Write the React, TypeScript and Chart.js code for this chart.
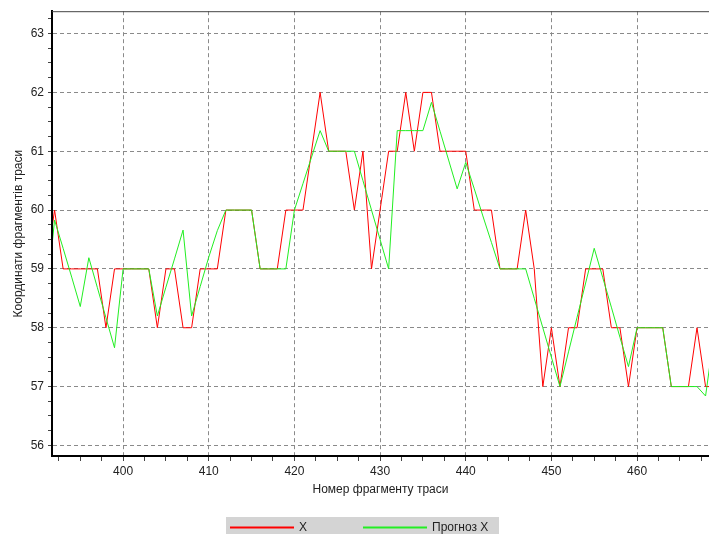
import React, { useEffect, useRef } from "react";
import { Chart, registerables } from "chart.js";

Chart.register(...registerables);

const fragments = [
  391, 392, 393, 394, 395, 396, 397, 398, 399, 400,
  401, 402, 403, 404, 405, 406, 407, 408, 409, 410,
  411, 412, 413, 414, 415, 416, 417, 418, 419, 420,
  421, 422, 423, 424, 425, 426, 427, 428, 429, 430,
  431, 432, 433, 434, 435, 436, 437, 438, 439, 440,
  441, 442, 443, 444, 445, 446, 447, 448, 449, 450,
  451, 452, 453, 454, 455, 456, 457, 458, 459, 460,
  461, 462, 463, 464, 465, 466, 467, 468, 469,
];

const actualX = [
  59, 60, 59, 59, 59, 59, 59, 58, 59, 59,
  59, 59, 59, 58, 59, 59, 58, 58, 59, 59,
  59, 60, 60, 60, 60, 59, 59, 59, 60, 60,
  60, 61, 62, 61, 61, 61, 60, 61, 59, 60,
  61, 61, 62, 61, 62, 62, 61, 61, 61, 61,
  60, 60, 60, 59, 59, 59, 60, 59, 57, 58,
  57, 58, 58, 59, 59, 59, 58, 58, 57, 58,
  58, 58, 58, 57, 57, 57, 58, 57, 57,
];

const forecastX = [
  58.4, 59.83, 59.35, 58.86, 58.36, 59.19, 58.68, 58.17, 57.66, 59,
  59, 59, 59, 58.2, 58.69, 59.17, 59.66, 58.2, 58.7, 59.2,
  59.65, 60, 60, 60, 60, 59, 59, 59, 59, 60,
  60.45, 60.9, 61.35, 61, 61, 61, 61, 60.5, 60, 59.5,
  59, 61.35, 61.35, 61.35, 61.35, 61.83, 61.34, 60.85, 60.36, 60.81,
  60.36, 59.9, 59.45, 59, 59, 59, 59, 58.5, 58, 57.5,
  57, 57.59, 58.18, 58.76, 59.35, 58.85, 58.35, 57.84, 57.34, 58,
  58, 58, 58, 57, 57, 57, 57, 56.84, 57.9,
];

const xMajorTicks = [400, 410, 420, 430, 440, 450, 460];
const yMajorTicks = [56, 57, 58, 59, 60, 61, 62, 63];
const seriesLabels = ["X", "Прогноз X"];
const seriesColors = ["#ff0000", "#22ee22"];

const FONT = "'Liberation Sans', Arial, sans-serif";

const framePlugin = {
  id: "frameAndLegend",
  afterDraw(chart: any) {
    const { ctx, chartArea } = chart;
    ctx.save();
    // top frame line
    ctx.strokeStyle = "#444";
    ctx.lineWidth = 1;
    ctx.beginPath();
    ctx.moveTo(chartArea.left, chartArea.top + 0.5);
    ctx.lineTo(chartArea.right, chartArea.top + 0.5);
    ctx.stroke();

    // legend
    ctx.fillStyle = "#d4d4d4";
    ctx.fillRect(226, 517, 273, 17);
    const starts = [230, 363];
    chart.data.datasets.forEach((ds: any, i: number) => {
      const x0 = starts[i];
      ctx.strokeStyle = ds.borderColor;
      ctx.lineWidth = 2;
      ctx.beginPath();
      ctx.moveTo(x0, 527.5);
      ctx.lineTo(x0 + 64, 527.5);
      ctx.stroke();
      ctx.fillStyle = "#222";
      ctx.font = `12px ${FONT}`;
      ctx.textBaseline = "middle";
      ctx.textAlign = "left";
      ctx.fillText(ds.label, x0 + 69, 528);
    });
    ctx.restore();
  },
};

export default function App() {
  const ref = useRef<HTMLCanvasElement | null>(null);

  useEffect(() => {
    if (!ref.current) return;
    const redData = fragments.map((f, i) => ({ x: f, y: actualX[i] }));
    const greenData = fragments.map((f, i) => ({ x: f, y: forecastX[i] }));

    const xMinor: number[] = [];
    for (let v = 392.5; v <= 468; v += 2.5) xMinor.push(v);
    const yMinor: number[] = [];
    for (let v = 56; v <= 63.3; v += 0.25) yMinor.push(v);

    const chart = new Chart(ref.current, {
      type: "line",
      data: {
        datasets: [
          {
            label: seriesLabels[0],
            data: redData,
            borderColor: seriesColors[0],
            borderWidth: 1,
            pointRadius: 0,
            tension: 0,
            order: 1,
          },
          {
            label: seriesLabels[1],
            data: greenData,
            borderColor: seriesColors[1],
            borderWidth: 1,
            pointRadius: 0,
            tension: 0,
            order: 0,
          },
        ],
      },
      options: {
        animation: false,
        responsive: false,
        devicePixelRatio: 1,
        layout: { padding: { top: 11, bottom: 37, left: 0, right: 0 } },
        plugins: {
          legend: { display: false },
          tooltip: { enabled: false },
        },
        scales: {
          x: {
            type: "linear",
            min: 391.7,
            max: 468.4,
            afterBuildTicks: (scale: any) => {
              scale.ticks = xMinor.map((v) => ({ value: v }));
            },
            afterFit: (scale: any) => {
              scale.height = 41;
            },
            ticks: {
              autoSkip: false,
              maxRotation: 0,
              padding: 3,
              color: "#222",
              font: { family: FONT, size: 12 },
              callback: (v: any) =>
                xMajorTicks.includes(Number(v)) ? String(v) : "",
            },
            grid: {
              drawTicks: true,
              tickLength: 5,
              tickColor: "#444",
              lineWidth: 1,
              color: (c: any) =>
                c.tick && xMajorTicks.includes(c.tick.value) ? "#8a8a8a" : "rgba(0,0,0,0)",
            },
            border: { display: true, color: "#000", width: 2, dash: [4, 3], z: 1 },
            title: {
              display: true,
              text: "Номер фрагменту траси",
              color: "#222",
              font: { family: FONT, size: 12 },
              padding: { top: 0, bottom: 0 },
            },
          },
          y: {
            type: "linear",
            min: 55.82,
            max: 63.38,
            afterBuildTicks: (scale: any) => {
              scale.ticks = yMinor.map((v) => ({ value: v }));
            },
            afterFit: (scale: any) => {
              scale.width = 52;
            },
            ticks: {
              autoSkip: false,
              padding: 4,
              color: "#222",
              font: { family: FONT, size: 12 },
              callback: (v: any) =>
                yMajorTicks.includes(Number(v)) ? String(v) : "",
            },
            grid: {
              drawTicks: true,
              tickLength: 4,
              tickColor: "#444",
              lineWidth: 1,
              color: (c: any) =>
                c.tick && yMajorTicks.includes(c.tick.value) ? "#8a8a8a" : "rgba(0,0,0,0)",
            },
            border: { display: true, color: "#000", width: 2, dash: [4, 3], z: 1 },
            title: {
              display: true,
              text: "Координати фрагментів траси",
              color: "#222",
              font: { family: FONT, size: 12 },
              padding: { top: 11, bottom: 0 },
            },
          },
        },
      },
      plugins: [framePlugin],
    } as any);

    return () => chart.destroy();
  }, []);

  return (
    <div style={{ position: "fixed", left: 0, top: 0, width: 709, height: 534, background: "#fff" }}>
      <canvas ref={ref} width={709} height={534} style={{ display: "block" }} />
    </div>
  );
}
